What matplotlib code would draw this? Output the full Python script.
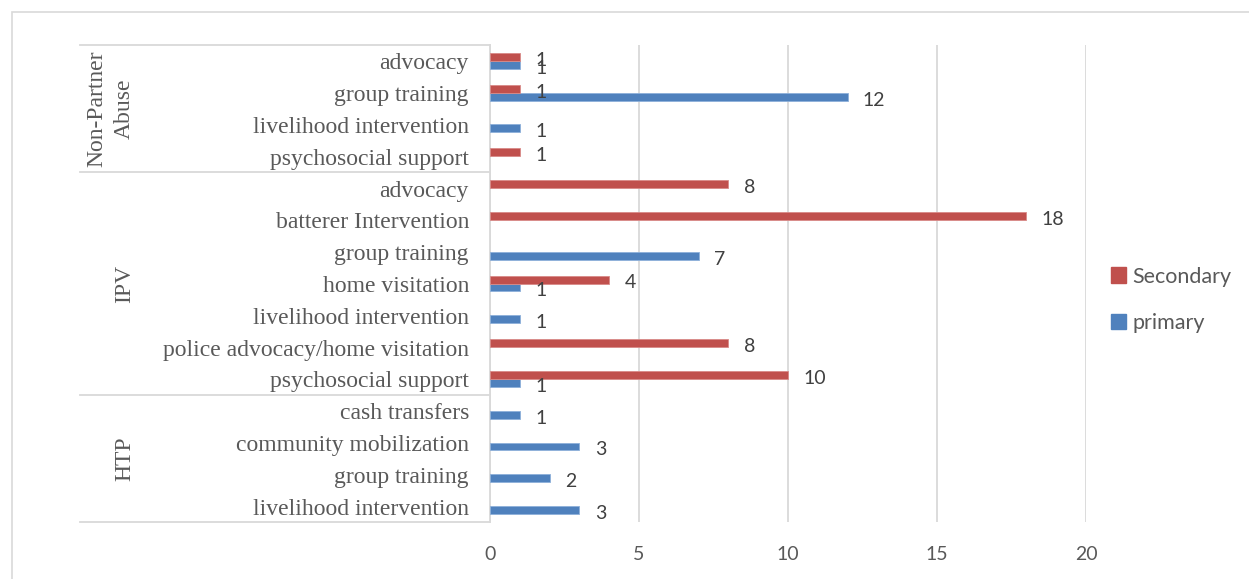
import matplotlib.pyplot as plt
import numpy as np
from matplotlib.patches import Patch, Rectangle
from matplotlib.lines import Line2D
from matplotlib.transforms import offset_copy

nan = np.nan

# categories listed bottom to top
groups = ['HTP', 'IPV', 'Non-Partner\nAbuse']
group_sizes = [4, 7, 4]
categories = ['livelihood intervention', 'group training', 'community mobilization', 'cash transfers',
              'psychosocial support', 'police advocacy/home visitation', 'livelihood intervention',
              'home visitation', 'group training', 'batterer Intervention', 'advocacy',
              'psychosocial support', 'livelihood intervention', 'group training', 'advocacy']
primary = [3, 2, 3, 1,
           1, nan, 1, 1, 7, nan, nan,
           nan, 1, 12, 1]
secondary = [nan, nan, nan, nan,
             10, 8, nan, 4, nan, 18, 8,
             1, nan, 1, 1]
xticks = [0, 5, 10, 15, 20]

W, H = 1249, 579
RED = '#C0504D'
BLUE = '#4F81BD'
GRID = '#D9D9D9'
TXT = '#595959'

fig = plt.figure(figsize=(W / 100, H / 100), dpi=100)
fig.patches.append(Rectangle((12 / W, -0.1), 1.2, 1 - 12 / H + 0.1, transform=fig.transFigure,
                             fill=False, edgecolor=GRID, lw=1.2))

ax = fig.add_axes([490 / W, 1 - 522 / H, 596 / W, 477 / H])
y = np.arange(len(categories))
h = 0.25
bp = ax.barh(y - h / 2, primary, height=h, color=BLUE, edgecolor='#8DB0DA', lw=0.6, zorder=3)
bs = ax.barh(y + h / 2, secondary, height=h, color=RED, edgecolor='#D98A88', lw=0.6, zorder=3)


def labs(vals):
    return ['' if np.isnan(v) else f'{v:g}' for v in vals]


for cont, vals in [(bp, primary), (bs, secondary)]:
    texts = ax.bar_label(cont, labels=labs(vals), padding=11, fontsize=14, family='Lato',
                         color='#404040')
    for t in texts:
        t.xyann = (11, -2.5)

ax.set_xlim(0, 20)
ax.set_ylim(-0.5, len(categories) - 0.5)
ax.set_xticks(xticks)
ax.set_yticks([])
ax.tick_params(axis='x', length=0, pad=17, labelsize=14, labelcolor=TXT)
for t in ax.get_xticklabels():
    t.set_family('Lato')
ax.grid(axis='x', color=GRID, lw=1.3, zorder=0)
for s in ['top', 'right', 'bottom']:
    ax.spines[s].set_visible(False)
ax.spines['left'].set_color(GRID)
ax.spines['left'].set_linewidth(1.3)

# category labels and group table
ytr = ax.get_yaxis_transform()
lab_tr = offset_copy(ytr, fig=fig, x=0, y=-3, units='dots')
for i, c in enumerate(categories):
    ax.text(-21 / 596, i, c, transform=lab_tr, ha='right', va='center',
            fontsize=17, family='Liberation Serif', color=TXT)

x0 = (80 - 490) / 596
start = 0
bounds = [-0.5]
for g, n in zip(groups, group_sizes):
    mid = start + (n - 1) / 2
    gx = (111 - 490) / 596 if '\n' in g else (125 - 490) / 596
    ax.text(gx, mid, g, transform=ytr, ha='center', va='center',
            rotation=90, fontsize=17, family='Liberation Serif', color=TXT,
            multialignment='center', linespacing=1.4)
    start += n
    bounds.append(start - 0.5)
for b in bounds:
    ax.add_line(Line2D([x0, 0], [b, b], transform=ytr, color=GRID, lw=1.3, clip_on=False))

handles = [Patch(color=RED, label='Secondary'), Patch(color=BLUE, label='primary')]
fig.legend(handles=handles, loc='center left', bbox_to_anchor=(1100 / W, 1 - 300 / H),
           frameon=False, prop={'family': 'Lato', 'size': 15.5}, labelcolor=TXT,
           handlelength=0.7, handleheight=0.7, handletextpad=0.3, labelspacing=1.25,
           borderpad=0)

fig.savefig('out.png', dpi=100)
